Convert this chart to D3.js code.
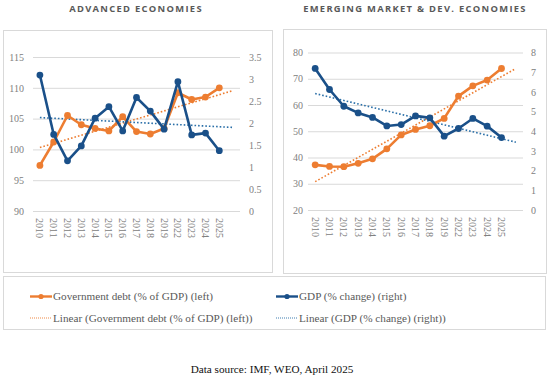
<!DOCTYPE html>
<html>
<head>
<meta charset="utf-8">
<script src="https://cdn.jsdelivr.net/npm/d3@7"></script>
<style>
  html, body { margin: 0; padding: 0; background: #fff; }
  svg { display: block; }
</style>
</head>
<body>
<svg id="chart" width="550" height="377"></svg>
<script>
// ---- Data ----
const years = ["2010","2011","2012","2013","2014","2015","2016","2017","2018","2019","2022","2023","2024","2025"];

const advTitle = "ADVANCED ECONOMIES";
const advDebt = [97.4, 101.2, 105.5, 104.0, 103.4, 103.0, 105.3, 102.9, 102.5, 103.4, 109.2, 108.1, 108.5, 110.0];
const advGdp  = [3.09, 1.74, 1.14, 1.48, 2.11, 2.37, 1.82, 2.58, 2.27, 1.86, 2.94, 1.73, 1.77, 1.37];
const advLeftTicks  = [90, 95, 100, 105, 110, 115];
const advRightTicks = [0, 0.5, 1, 1.5, 2, 2.5, 3, 3.5];

const emdeTitle = "EMERGING MARKET & DEV. ECONOMIES";
const emdeDebt = [37.2, 36.6, 36.5, 37.8, 39.5, 43.3, 48.6, 50.7, 52.1, 54.9, 63.4, 67.3, 69.5, 73.9];
const emdeGdp  = [7.19, 6.12, 5.27, 4.93, 4.70, 4.27, 4.34, 4.78, 4.68, 3.75, 4.14, 4.65, 4.26, 3.68];
const emdeLeftTicks  = [20, 30, 40, 50, 60, 70, 80];
const emdeRightTicks = [0, 1, 2, 3, 4, 5, 6, 7, 8];

const legendLabels = [
  "Government debt (% of GDP) (left)",
  "GDP (% change) (right)",
  "Linear (Government debt (% of GDP) (left))",
  "Linear (GDP (% change) (right))"
];
const sourceText = "Data source: IMF, WEO, April 2025";

// ---- Styles ----
const ORANGE = "#ed7d31";
const BLUE = "#1a5089";
const BLUE_TREND = "#2a6fa8";
const GRID = "#d9d9d9";
const TICK_COLOR = "#808080";
const SERIF = "'Liberation Serif', 'Times New Roman', serif";

const svg = d3.select("#chart");

function linreg(vals) {
  const n = vals.length;
  const xs = d3.range(1, n + 1);
  const mx = d3.mean(xs), my = d3.mean(vals);
  let num = 0, den = 0;
  xs.forEach((x, i) => { num += (x - mx) * (vals[i] - my); den += (x - mx) * (x - mx); });
  const b = num / den, a = my - b * mx;
  return x => a + b * x;
}

function panel(cfg) {
  const g = svg.append("g");
  g.append("rect")
    .attr("x", cfg.frame[0] + 0.5).attr("y", cfg.frame[1] + 0.5)
    .attr("width", cfg.frame[2]).attr("height", cfg.frame[3])
    .attr("fill", "#fff").attr("stroke", GRID).attr("stroke-width", 1);

  g.append("text")
    .attr("x", cfg.titleX).attr("y", 11.8)
    .attr("text-anchor", "middle")
    .attr("font-family", "'Open Sans', sans-serif")
    .attr("font-weight", 700)
    .attr("font-size", 9.4)
    .attr("letter-spacing", 1.3)
    .attr("fill", "#595959")
    .text(cfg.title);

  const nSlots = cfg.cats.length + 1;
  const x = d3.scaleBand().domain(d3.range(nSlots)).range([cfg.x0, cfg.x1]);
  const xc = i => x(i) + x.bandwidth() / 2;
  const xTrend = d3.scaleLinear().domain([0, nSlots - 1]).range([xc(0), xc(nSlots - 1)]);

  const yL = d3.scaleLinear().domain(d3.extent(cfg.leftTicks)).range([cfg.yB, cfg.yT]);
  const yR = d3.scaleLinear().domain(d3.extent(cfg.rightTicks)).range([cfg.yB, cfg.yT]);

  const gridAxis = d3.axisLeft(yL).tickValues(cfg.leftTicks).tickSize(-(cfg.x1 - cfg.x0)).tickFormat("");
  const gg = g.append("g").attr("transform", `translate(${cfg.x0},0)`).call(gridAxis);
  gg.select(".domain").remove();
  gg.selectAll(".tick line").attr("stroke", GRID).attr("stroke-width", 1);

  const la = g.append("g").attr("transform", `translate(${cfg.leftLabelX},0)`)
    .call(d3.axisLeft(yL).tickValues(cfg.leftTicks).tickSize(0).tickPadding(0));
  la.select(".domain").remove();
  la.selectAll("text").attr("font-family", SERIF).attr("font-size", 10).attr("fill", TICK_COLOR);

  const ra = g.append("g").attr("transform", `translate(${cfg.rightLabelX},0)`)
    .call(d3.axisRight(yR).tickValues(cfg.rightTicks).tickSize(0).tickPadding(0).tickFormat(d3.format("~g")));
  ra.select(".domain").remove();
  ra.selectAll("text").attr("font-family", SERIF).attr("font-size", 10).attr("fill", TICK_COLOR);

  const cg = g.append("g");
  cfg.cats.forEach((c, i) => {
    cg.append("text")
      .attr("transform", `translate(${xc(i) - 3.5},${cfg.yB + 7}) rotate(90)`)
      .attr("font-family", SERIF).attr("font-size", 10).attr("fill", TICK_COLOR)
      .text(c);
  });

  const tDebt = linreg(cfg.debt), tGdp = linreg(cfg.gdp);
  g.append("line")
    .attr("x1", xTrend(0)).attr("x2", xTrend(nSlots - 1))
    .attr("y1", yL(tDebt(1))).attr("y2", yL(tDebt(nSlots)))
    .attr("stroke", ORANGE).attr("stroke-width", 1.6).attr("stroke-dasharray", "1.6,2");
  g.append("line")
    .attr("x1", xTrend(0)).attr("x2", xTrend(nSlots - 1))
    .attr("y1", yR(tGdp(1))).attr("y2", yR(tGdp(nSlots)))
    .attr("stroke", BLUE_TREND).attr("stroke-width", 1.6).attr("stroke-dasharray", "1.6,2");

  function series(vals, yS, color) {
    const line = d3.line().x((d, i) => xc(i)).y(d => yS(d));
    g.append("path").datum(vals).attr("d", line)
      .attr("fill", "none").attr("stroke", color).attr("stroke-width", 2.6)
      .attr("stroke-linejoin", "round");
    g.selectAll(null).data(vals).enter().append("circle")
      .attr("cx", (d, i) => xc(i)).attr("cy", d => yS(d)).attr("r", 3.4)
      .attr("fill", color);
  }
  series(cfg.debt, yL, ORANGE);
  series(cfg.gdp, yR, BLUE);
}

panel({
  title: advTitle, titleX: 136,
  frame: [3, 30, 269, 242],
  x0: 33, x1: 240, yT: 57, yB: 211,
  leftLabelX: 24, rightLabelX: 249,
  cats: years, debt: advDebt, gdp: advGdp,
  leftTicks: advLeftTicks, rightTicks: advRightTicks
});

panel({
  title: emdeTitle, titleX: 415,
  frame: [283, 29, 263, 244],
  x0: 308, x1: 523, yT: 52.5, yB: 210,
  leftLabelX: 303, rightLabelX: 531,
  cats: years, debt: emdeDebt, gdp: emdeGdp,
  leftTicks: emdeLeftTicks, rightTicks: emdeRightTicks
});

// ---- Legend ----
const lg = svg.append("g");
lg.append("rect").attr("x", 3.5).attr("y", 276.5).attr("width", 542).attr("height", 53)
  .attr("fill", "#fff").attr("stroke", GRID);

const legendItems = [
  { x: 30, y: 296.5, color: ORANGE, type: "solid", label: legendLabels[0] },
  { x: 276, y: 296.5, color: BLUE, type: "solid", label: legendLabels[1] },
  { x: 30, y: 318, color: ORANGE, type: "dot", label: legendLabels[2] },
  { x: 276, y: 318, color: BLUE_TREND, type: "dot", label: legendLabels[3] }
];
legendItems.forEach(it => {
  if (it.type === "solid") {
    lg.append("line").attr("x1", it.x).attr("x2", it.x + 22).attr("y1", it.y).attr("y2", it.y)
      .attr("stroke", it.color).attr("stroke-width", 2.4);
    lg.append("circle").attr("cx", it.x + 11).attr("cy", it.y).attr("r", 2.6).attr("fill", it.color);
  } else {
    lg.append("line").attr("x1", it.x).attr("x2", it.x + 22).attr("y1", it.y).attr("y2", it.y)
      .attr("stroke", it.color).attr("stroke-width", 0.9).attr("stroke-dasharray", "1,1");
  }
  lg.append("text").attr("x", it.x + 23).attr("y", it.y + 3.8)
    .attr("font-family", SERIF).attr("font-size", 11.2).attr("fill", "#595959")
    .text(it.label);
});

// ---- Source ----
svg.append("text").attr("x", 272).attr("y", 372.5).attr("text-anchor", "middle")
  .attr("font-family", SERIF).attr("font-size", 11.2).attr("fill", "#111")
  .text(sourceText);
</script>
</body>
</html>
